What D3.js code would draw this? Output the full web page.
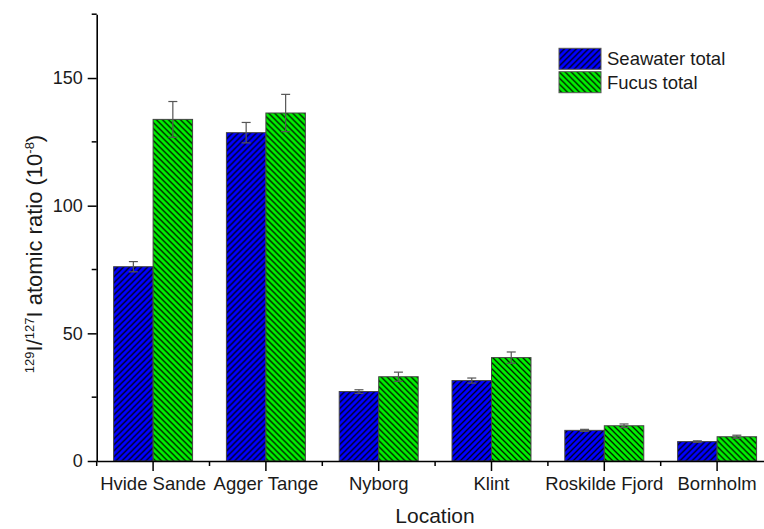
<!DOCTYPE html>
<html>
<head>
<meta charset="utf-8">
<script src="https://cdn.jsdelivr.net/npm/d3@7"></script>
<style>
  html, body { margin: 0; padding: 0; background: #fff; }
  svg { display: block; font-family: Arial, "Liberation Sans", sans-serif; }
</style>
</head>
<body>
<svg id="chart" width="764" height="529"></svg>
<script>
// Sampling locations and the two measured series (129I/127I, in 1e-8)
const locations = ["Hvide Sande", "Agger Tange", "Nyborg", "Klint", "Roskilde Fjord", "Bornholm"];
const seawaterTotal = [76.1, 128.6, 27.2, 31.5, 12.0, 7.6];
const seawaterErr   = [2.0, 4.0, 0.7, 1.0, 0.4, 0.3];
const fucusTotal    = [133.8, 136.3, 33.0, 40.5, 13.8, 9.5];
const fucusErr      = [7.0, 7.3, 1.8, 2.2, 0.7, 0.6];
const seriesNames   = ["Seawater total", "Fucus total"];
const yMajorTicks   = [0, 50, 100, 150];
const yMinorTicks   = [25, 75, 125, 175];

const svg = d3.select("#chart");
const textColor = "#1a1a1a";

const x0 = 96.7, step = 112.8;
const x = d3.scaleBand().domain(locations).range([x0, x0 + step * locations.length]).padding(0);
const xs = d3.scaleBand().domain(seriesNames).range([0.15 * x.bandwidth(), 0.85 * x.bandwidth()]).padding(0);
const y = d3.scaleLinear().domain([0, 175]).range([461, 14.2]);

// hatch patterns: "/" on blue, "\" on green
const defs = svg.append("defs");
function hatch(id, fill, dir) {
  const p = defs.append("pattern").attr("id", id)
    .attr("patternUnits", "userSpaceOnUse").attr("width", 6).attr("height", 6);
  p.append("rect").attr("width", 6).attr("height", 6).attr("fill", fill);
  const d = dir > 0
    ? "M0,6 L6,0 M-1,1 L1,-1 M5,7 L7,5"
    : "M0,0 L6,6 M-1,5 L1,7 M5,-1 L7,1";
  p.append("path").attr("d", d).attr("stroke", "#000").attr("stroke-width", 1.3).attr("stroke-opacity", 0.9);
}
hatch("hatchBlue", "#0000ff", 1);
hatch("hatchGreen", "#00f000", -1);
const fills = { "Seawater total": "url(#hatchBlue)", "Fucus total": "url(#hatchGreen)" };

const rows = locations.map((loc, i) => ({
  loc,
  vals: [
    { s: seriesNames[0], v: seawaterTotal[i], e: seawaterErr[i] },
    { s: seriesNames[1], v: fucusTotal[i], e: fucusErr[i] }
  ]
}));

// bars
const g = svg.append("g");
const groups = g.selectAll("g.grp").data(rows).join("g")
  .attr("transform", d => `translate(${x(d.loc)},0)`);
groups.selectAll("rect").data(d => d.vals).join("rect")
  .attr("x", d => xs(d.s))
  .attr("width", xs.bandwidth())
  .attr("y", d => y(d.v))
  .attr("height", d => y(0) - y(d.v))
  .attr("fill", d => fills[d.s])
  .attr("stroke", "#444").attr("stroke-width", 1);

// error bars
const eb = groups.selectAll("g.err").data(d => d.vals).join("g")
  .attr("stroke", "#555").attr("stroke-width", 1.2);
eb.append("line")
  .attr("x1", d => xs(d.s) + xs.bandwidth() / 2).attr("x2", d => xs(d.s) + xs.bandwidth() / 2)
  .attr("y1", d => y(d.v + d.e)).attr("y2", d => y(d.v - d.e));
eb.append("line")
  .attr("x1", d => xs(d.s) + xs.bandwidth() / 2 - 4.5).attr("x2", d => xs(d.s) + xs.bandwidth() / 2 + 4.5)
  .attr("y1", d => y(d.v + d.e)).attr("y2", d => y(d.v + d.e));
eb.append("line")
  .attr("x1", d => xs(d.s) + xs.bandwidth() / 2 - 4.5).attr("x2", d => xs(d.s) + xs.bandwidth() / 2 + 4.5)
  .attr("y1", d => y(d.v - d.e)).attr("y2", d => y(d.v - d.e));

// x axis: major ticks at categories, minor ticks between them
const xAxis = svg.append("g").attr("transform", `translate(0,${y(0)})`)
  .call(d3.axisBottom(x).tickSize(10).tickSizeOuter(0).tickPadding(6));
xAxis.select(".domain").attr("stroke", "#000").attr("stroke-width", 1.6);
xAxis.selectAll(".tick line").attr("stroke", "#000").attr("stroke-width", 1.5);
xAxis.selectAll(".tick text").attr("font-size", 18.5).attr("fill", textColor)
  .attr("font-family", "Arial, 'Liberation Sans', sans-serif");
const minorX = d3.range(locations.length + 1).map(i => x0 + i * step);
svg.append("g").selectAll("line").data(minorX).join("line")
  .attr("x1", d => d).attr("x2", d => d)
  .attr("y1", y(0)).attr("y2", y(0) + 5)
  .attr("stroke", "#000").attr("stroke-width", 1.5);

// y axis
const yAxis = svg.append("g").attr("transform", `translate(${x0},0)`)
  .call(d3.axisLeft(y).tickValues(yMajorTicks).tickSize(9).tickSizeOuter(0).tickPadding(5));
yAxis.select(".domain").attr("stroke", "#000").attr("stroke-width", 1.6);
yAxis.selectAll(".tick line").attr("stroke", "#000").attr("stroke-width", 1.5);
yAxis.selectAll(".tick text").attr("font-size", 18).attr("fill", textColor)
  .attr("font-family", "Arial, 'Liberation Sans', sans-serif");
svg.append("g").selectAll("line").data(yMinorTicks).join("line")
  .attr("x1", x0 - 5).attr("x2", x0)
  .attr("y1", d => y(d)).attr("y2", d => y(d))
  .attr("stroke", "#000").attr("stroke-width", 1.5);

// axis titles
svg.append("text").attr("x", 435).attr("y", 523).attr("text-anchor", "middle")
  .attr("font-size", 21).attr("fill", textColor).text("Location");

const yt = svg.append("text").attr("transform", "translate(42,254) rotate(-90)")
  .attr("text-anchor", "middle").attr("font-size", 22).attr("fill", textColor);
yt.append("tspan").attr("font-size", 13).attr("dy", -8).text("129");
yt.append("tspan").attr("dy", 8).text("I/");
yt.append("tspan").attr("font-size", 13).attr("dy", -8).text("127");
yt.append("tspan").attr("dy", 8).text("I atomic ratio (10");
yt.append("tspan").attr("font-size", 13).attr("dy", -8).text("-8");
yt.append("tspan").attr("dy", 8).text(")");

// legend
const legend = svg.append("g");
const legItems = legend.selectAll("g").data(seriesNames).join("g")
  .attr("transform", (d, i) => `translate(559,${48.3 + i * 23.4})`);
legItems.append("rect").attr("width", 42).attr("height", 21)
  .attr("fill", d => fills[d]).attr("stroke", "#555").attr("stroke-width", 1);
legItems.append("text").attr("x", 48).attr("y", 10.5).attr("dy", "0.35em")
  .attr("font-size", 18.5).attr("fill", textColor).text(d => d);
</script>
</body>
</html>
